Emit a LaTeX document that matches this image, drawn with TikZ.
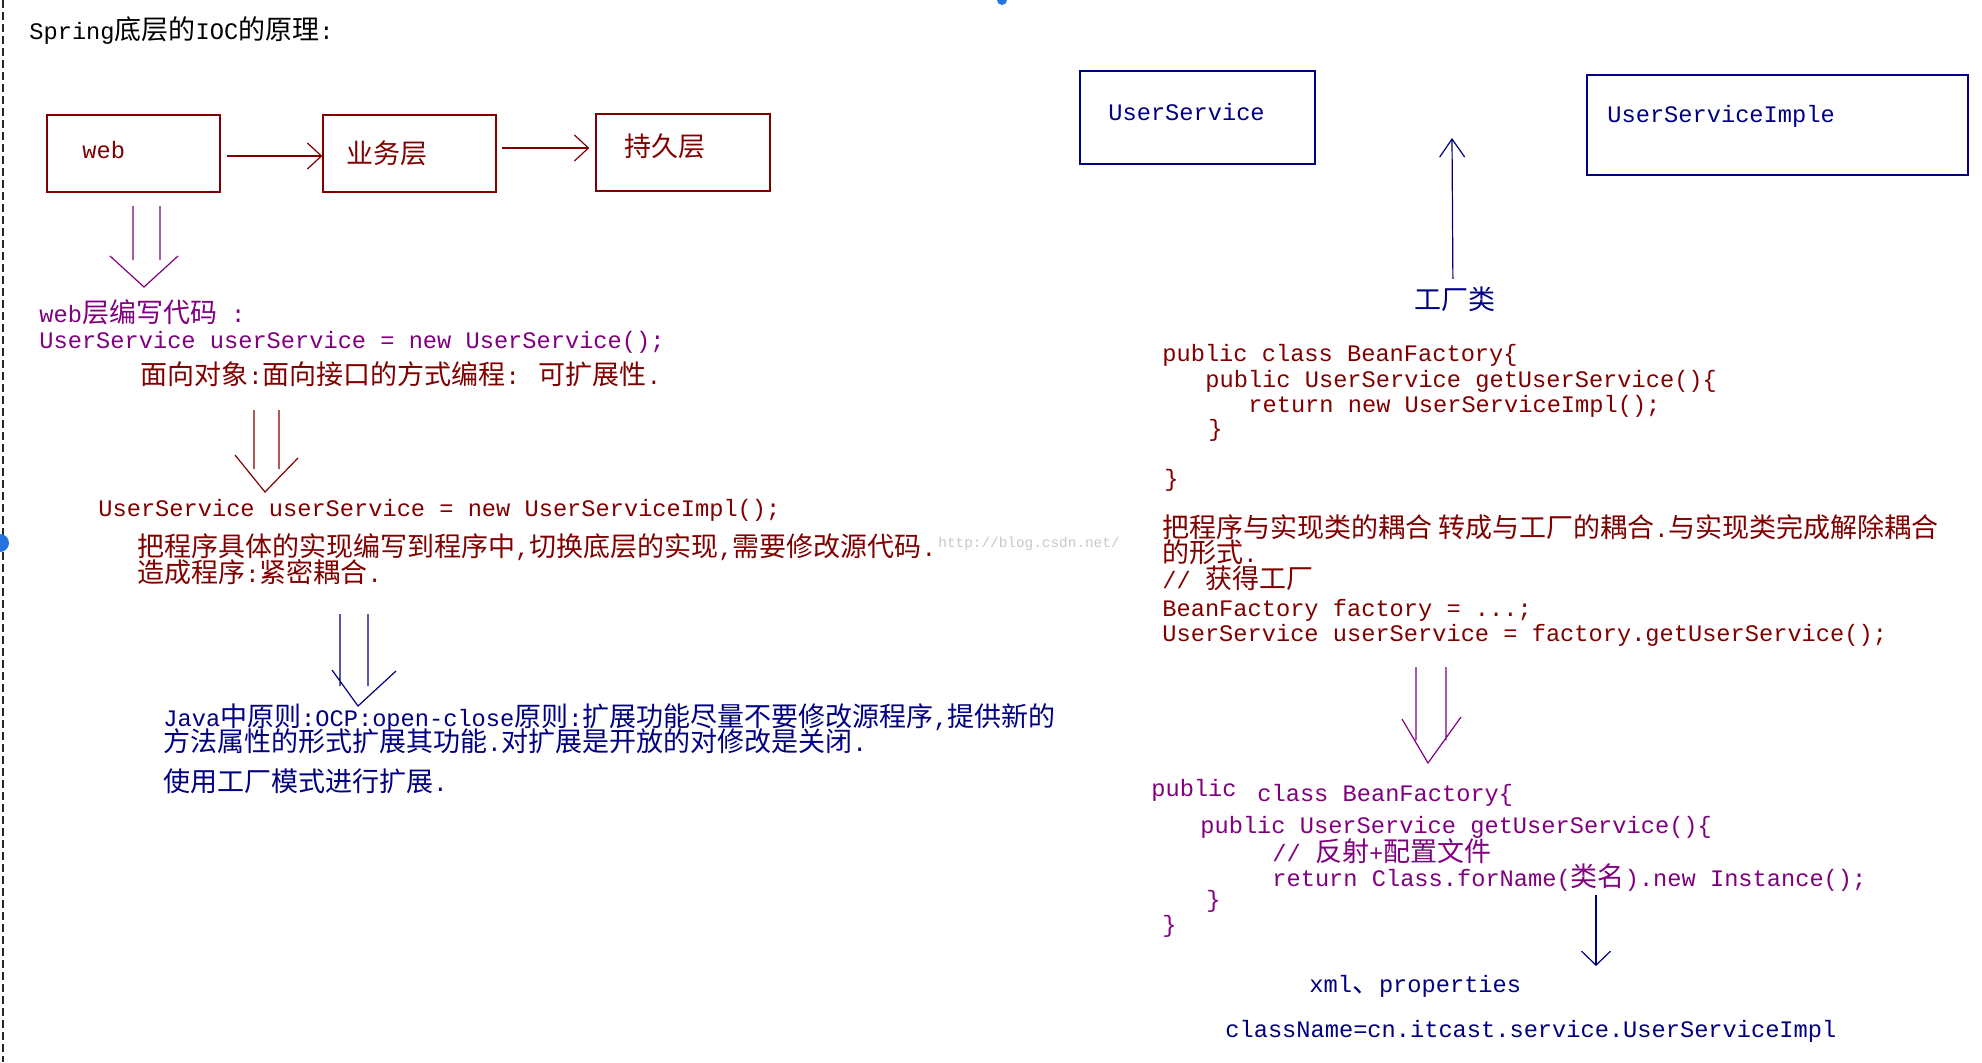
\documentclass[tikz,border=0pt]{standalone}
\usepackage{fontspec}
\setmainfont{Liberation Mono}[Scale=0.877]
\newfontfamily\cjk{Noto Sans CJK SC}
\newcommand{\zh}[1]{{\cjk #1}}
\usetikzlibrary{arrows.meta}
\definecolor{ocred}{RGB}{128,0,0}
\definecolor{ocpurple}{RGB}{128,0,128}
\definecolor{ocblue}{RGB}{0,0,128}
\definecolor{ocdot}{RGB}{38,116,226}
\newcommand{\dblarrow}[8]{%
	\draw[#1,line width=0.6pt] (#2,#4) -- (#2,#5) (#3,#4) -- (#3,#5) (#7) -- (#6) -- (#8);}
\begin{document}
\begin{tikzpicture}[x=0.5pt,y=-0.5pt,
	box/.style={draw,rectangle,inner sep=0pt,line width=0.7pt},
	txt/.style={inner sep=0pt,anchor=base west,font=\fontsize{13.5pt}{12.5pt}\selectfont},
	barb/.style={-{Straight Barb[length=7pt,width=13pt]},line width=0.6pt}]
	\useasboundingbox (0,0) rectangle (1982,1062);
	\draw[dash pattern=on 4pt off 2pt,line width=1pt,black!85] (3,0) -- (3,1062);
	\fill[ocdot] (0,543) circle (4.5pt);
	\fill[ocdot] (1002,0) circle (2.5pt);

	\node[txt] (title) at (29,39) {Spring\zh{底层的}IOC\zh{的原理}:};

	\node[box,draw=ocred,minimum width=86.5pt,minimum height=38.5pt] (web) at (133.5,153.5) {};
	\node[box,draw=ocred,minimum width=86.5pt,minimum height=38.5pt] (biz) at (409.5,153.5) {};
	\node[box,draw=ocred,minimum width=87pt,minimum height=38.5pt] (per) at (683,152.5) {};
	\node[txt,ocred] (webt) at (82,158) {web};
	\node[txt,ocred] (bizt) at (346,163) {\zh{业务层}};
	\node[txt,ocred] (pert) at (624,156) {\zh{持久层}};
	\draw[barb,ocred] ([shift={(6,2.5)}]web.east) -- ([shift={(0,2.5)}]biz.west);
	\draw[barb,ocred] ([shift={(5,-5.5)}]biz.east) -- ([shift={(-6,-4.5)}]per.west);

	\dblarrow{ocpurple}{133}{160}{206}{260}{144,287}{110,256}{178,256}
	\node[txt,ocpurple] (l1) at (39,322) {web\zh{层编写代码} :};
	\node[txt,ocpurple] (l2) at (39,348) {UserService userService = new UserService();};
	\node[txt,ocred] (l3) at (140,384) {\zh{面向对象}:\zh{面向接口的方式编程}: \zh{可扩展性}.};

	\dblarrow{ocred}{254}{279}{410}{469}{265,492}{235,455}{298,458}
	\node[txt,ocred] (l4) at (98,516) {UserService userService = new UserServiceImpl();};
	\node[txt,font=\fontsize{8.2pt}{9pt}\selectfont,text=black!22] (wm) at (938,547) {http://blog.csdn.net/};
	\node[txt,ocred] (l5) at (137,556) {\zh{把程序具体的实现编写到程序中},\zh{切换底层的实现},\zh{需要修改源代码}.};
	\node[txt,ocred] (l6) at (137,582) {\zh{造成程序}:\zh{紧密耦合}.};

	\dblarrow{ocblue}{340}{368}{614}{686}{358,706}{332,670}{396,671}
	\node[txt,ocblue] (l7) at (163,726) {Java\zh{中原则}:OCP:open-close\zh{原则}:\zh{扩展功能尽量不要修改源程序},\zh{提供新的}};
	\node[txt,ocblue] (l8) at (163,751) {\zh{方法属性的形式扩展其功能}.\zh{对扩展是开放的对修改是关闭}.};
	\node[txt,ocblue] (l9) at (163,791) {\zh{使用工厂模式进行扩展}.};

	\node[box,draw=ocblue,minimum width=117.5pt,minimum height=46.5pt] (us) at (1197.5,117.5) {};
	\node[box,draw=ocblue,minimum width=190.5pt,minimum height=50pt] (usi) at (1777.5,125) {};
	\node[txt,ocblue] (ust) at (1108,120) {UserService};
	\node[txt,ocblue] (usit) at (1607,122) {UserServiceImple};
	\node[txt,ocblue] (fac) at (1414,309) {\zh{工厂类}};
	\coordinate (upend) at (1452,138);
	\draw[ocblue,line width=0.6pt,-{Straight Barb[length=9pt,width=12.5pt]}] ([shift={(-2,-7)}]fac.north) -- (upend);

	\node[txt,ocred] (r1) at (1162,361) {public class BeanFactory\{};
	\node[txt,ocred] (r2) at (1205,387) {public UserService getUserService()\{};
	\node[txt,ocred] (r3) at (1248,412) {return new UserServiceImpl();};
	\node[txt,ocred] (r4) at (1208,436) {\}};
	\node[txt,ocred] (r5) at (1164,486) {\}};
	\node[txt,ocred] (r6) at (1162,537) {\zh{把程序与实现类的耦合 转成与工厂的耦合}.\zh{与实现类完成解除耦合}};
	\node[txt,ocred] (r7) at (1162,562) {\zh{的形式}.};
	\node[txt,ocred] (r8) at (1162,588) {// \zh{获得工厂}};
	\node[txt,ocred] (r9) at (1162,616) {BeanFactory factory = ...;};
	\node[txt,ocred] (r10) at (1162,641) {UserService userService = factory.getUserService();};

	\dblarrow{ocpurple}{1416}{1446}{667}{740}{1428,763}{1402,719}{1461,717}
	\node[txt,ocpurple] (p1) at (1151,796) {public};
	\node[txt,ocpurple] (p1b) at (1257,801) {class BeanFactory\{};
	\node[txt,ocpurple] (p2) at (1200,833) {public UserService getUserService()\{};
	\node[txt,ocpurple] (p3) at (1272,861) {// \zh{反射}+\zh{配置文件}};
	\node[txt,ocpurple] (p4) at (1272,886) {return Class.forName(\zh{类名}).new Instance();};
	\node[txt,ocpurple] (p5) at (1206,907) {\}};
	\node[txt,ocpurple] (p6) at (1162,932) {\}};

	\coordinate (dna) at (1596,895);
	\coordinate (dnb) at (1596,966);
	\draw[ocblue,line width=0.6pt,-{Straight Barb[length=7pt,width=14.5pt]}] (dna) -- (dnb);
	\node[txt,ocblue] (x1) at (1309,992) {xml\zh{、}properties};
	\node[txt,ocblue] (x2) at (1225,1037) {className=cn.itcast.service.UserServiceImpl};
\end{tikzpicture}
\end{document}
